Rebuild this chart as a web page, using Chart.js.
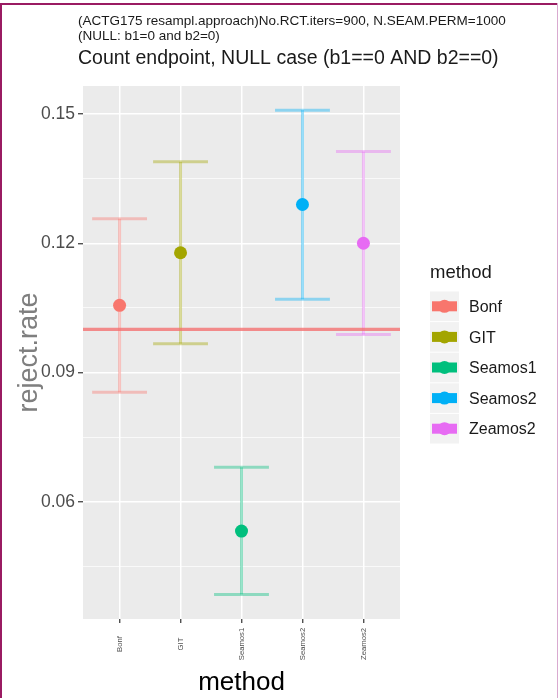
<!DOCTYPE html>
<html>
<head>
<meta charset="utf-8">
<script src="https://cdn.jsdelivr.net/npm/chart.js@4.4.1/dist/chart.umd.min.js"></script>
<style>
html,body{margin:0;padding:0;background:#ffffff;}
canvas{display:block;}
</style>
</head>
<body>
<canvas id="c" width="558" height="698"></canvas>
<script>
// ---- data ----
const categories = ['Bonf', 'GIT', 'Seamos1', 'Seamos2', 'Zeamos2'];
const rejectRate = [0.1056, 0.1178, 0.0532, 0.1290, 0.1200];
const lowerCI    = [0.0854, 0.0967, 0.0385, 0.1070, 0.0988];
const upperCI    = [0.1257, 0.1389, 0.0680, 0.1509, 0.1413];
const nullRate   = 0.10;
const yTickLabels = [0.06, 0.09, 0.12, 0.15];
const yMinorTicks = [0.045, 0.075, 0.105, 0.135];
const subtitleLines = ['(ACTG175 resampl.approach)No.RCT.iters=900, N.SEAM.PERM=1000', '(NULL: b1=0 and b2=0)'];
const titleText = 'Count endpoint, NULL case (b1==0 AND b2==0)';
const xTitle = 'method';
const yTitle = 'reject.rate';
const legendTitle = 'method';

// ---- styles ----
const palette = ['#F8766D', '#A3A500', '#00BF7D', '#00B0F6', '#E76BF3'];
const FONT = "'Liberation Sans', Arial, Helvetica, sans-serif";
Chart.defaults.font.family = FONT;

function alpha(hex, a) {
  const n = parseInt(hex.slice(1), 16);
  return `rgba(${(n >> 16) & 255},${(n >> 8) & 255},${n & 255},${a})`;
}
const isMajor = v => yTickLabels.some(t => Math.abs(t - v) < 1e-9);

const CAP = 0.45;
const datasets = [];
categories.forEach((cat, i) => {
  const x = i + 1;
  const c = alpha(palette[i], 0.4);
  const lineStyle = {type: 'line', borderColor: c, borderWidth: 3, pointRadius: 0, fill: false, order: 3, borderCapStyle: 'butt'};
  datasets.push(Object.assign({label: cat + ' CI', data: [{x: x, y: lowerCI[i]}, {x: x, y: upperCI[i]}]}, lineStyle));
  datasets.push(Object.assign({label: cat + ' lower', data: [{x: x - CAP, y: lowerCI[i]}, {x: x + CAP, y: lowerCI[i]}]}, lineStyle));
  datasets.push(Object.assign({label: cat + ' upper', data: [{x: x - CAP, y: upperCI[i]}, {x: x + CAP, y: upperCI[i]}]}, lineStyle));
});
datasets.push({
  type: 'line', label: 'null', data: [{x: 0.4, y: nullRate}, {x: 5.6, y: nullRate}],
  borderColor: 'rgba(244,110,110,0.78)', borderWidth: 3.2, pointRadius: 0, order: 2
});
categories.forEach((cat, i) => {
  datasets.push({
    type: 'scatter', label: cat, data: [{x: i + 1, y: rejectRate[i]}],
    backgroundColor: palette[i], borderWidth: 0, pointRadius: 6.5, order: 1
  });
});

const decor = {
  id: 'decor',
  beforeDraw(chart) {
    const {ctx, chartArea: a} = chart;
    ctx.save();
    ctx.fillStyle = '#EBEBEB';
    ctx.fillRect(a.left, a.top, a.right - a.left, a.bottom - a.top);
    ctx.restore();
  },
  afterDraw(chart) {
    const {ctx} = chart;
    const xs = chart.scales.x;
    ctx.save();
    // titles
    ctx.fillStyle = '#1a1a1a';
    ctx.textAlign = 'left';
    ctx.textBaseline = 'alphabetic';
    ctx.font = '13.5px ' + FONT;
    ctx.fillText(subtitleLines[0], 78, 25);
    ctx.fillText(subtitleLines[1], 78, 40);
    ctx.font = '19.5px ' + FONT;
    ctx.fillText(titleText, 78, 64);
    // x tick labels (rotated, centred like ggplot)
    ctx.fillStyle = '#4d4d4d';
    ctx.font = '7.7px ' + FONT;
    ctx.textAlign = 'center';
    ctx.textBaseline = 'middle';
    categories.forEach((cat, i) => {
      const px = xs.getPixelForValue(i + 1);
      ctx.save();
      ctx.translate(px, 644);
      ctx.rotate(-Math.PI / 2);
      ctx.fillText(cat, 0, 0);
      ctx.restore();
    });
    // legend
    ctx.fillStyle = '#1a1a1a';
    ctx.textAlign = 'left';
    ctx.textBaseline = 'alphabetic';
    ctx.font = '18.5px ' + FONT;
    ctx.fillText(legendTitle, 430, 278);
    categories.forEach((cat, i) => {
      const top = 291.5 + i * 30.6;
      const cy = top + 14.8;
      ctx.fillStyle = '#F2F2F2';
      ctx.fillRect(430, top, 29, 29.6);
      ctx.fillStyle = palette[i];
      ctx.fillRect(432, cy - 5, 25, 10);
      ctx.beginPath();
      ctx.arc(444.5, cy, 6.5, 0, Math.PI * 2);
      ctx.fill();
      ctx.fillStyle = '#1a1a1a';
      ctx.font = '16px ' + FONT;
      ctx.fillText(cat, 469, cy + 5.7);
    });
    // frame
    ctx.fillStyle = '#9A1B62';
    ctx.fillRect(0, 3, 558, 2);
    ctx.fillRect(0, 3, 2, 695);
    ctx.fillStyle = '#D9AAD0';
    ctx.fillRect(557, 3, 1, 695);
    ctx.restore();
  }
};

new Chart(document.getElementById('c'), {
  type: 'scatter',
  data: {datasets},
  options: {
    responsive: false,
    animation: false,
    devicePixelRatio: 1,
    layout: {padding: {top: 86, right: 158, bottom: 0, left: 0}},
    plugins: {legend: {display: false}, tooltip: {enabled: false}, title: {display: false}},
    scales: {
      x: {
        type: 'linear', position: 'bottom', min: 0.4, max: 5.6,
        afterBuildTicks: s => { s.ticks = categories.map((c, i) => ({value: i + 1})); },
        afterFit: s => { s.height = 79; },
        ticks: {display: false},
        grid: {color: '#FFFFFF', lineWidth: 1.5, drawTicks: true, tickLength: 4, tickColor: '#333333', tickWidth: 1.2},
        border: {display: false},
        title: {display: true, text: xTitle, color: '#000000', font: {size: 26, family: FONT}, padding: {top: 0, bottom: 0}}
      },
      y: {
        type: 'linear', position: 'left', min: 0.0328, max: 0.1565,
        afterBuildTicks: s => { s.ticks = yMinorTicks.concat(yTickLabels).sort((a, b) => a - b).map(v => ({value: v})); },
        afterFit: s => { s.width = 83; },
        ticks: {
          color: '#4d4d4d', font: {size: 17.5, family: FONT}, padding: 3,
          callback: v => isMajor(v) ? v.toFixed(2) : ''
        },
        grid: {
          color: '#FFFFFF',
          lineWidth: c => (c.tick && isMajor(c.tick.value)) ? 1.5 : 0.7,
          drawTicks: true, tickLength: 5,
          tickColor: c => (c.tick && isMajor(c.tick.value)) ? '#333333' : 'rgba(0,0,0,0)',
          tickWidth: 1.2
        },
        border: {display: false},
        title: {display: true, text: yTitle, color: '#7f7f7f', font: {size: 27, family: FONT}, padding: {top: 13, bottom: 0}}
      }
    }
  },
  plugins: [decor]
});
</script>
</body>
</html>
